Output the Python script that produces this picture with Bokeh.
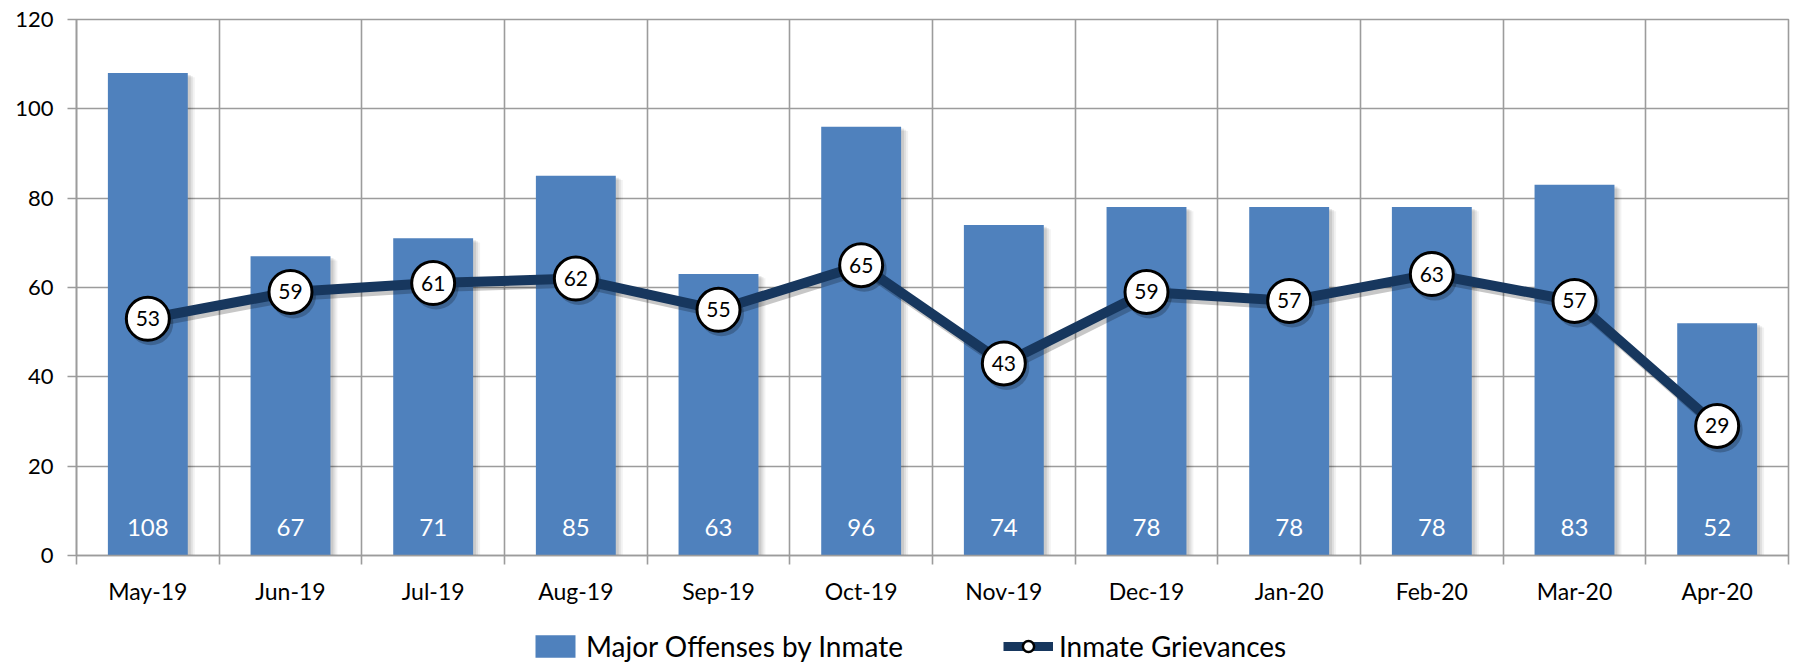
from bokeh.plotting import figure
from bokeh.layouts import column
from bokeh.models import ColumnDataSource, FixedTicker, Legend, LegendItem, Range1d
from bokeh.core.properties import value
from bokeh.embed import file_html
from bokeh.resources import INLINE

months = ["May-19", "Jun-19", "Jul-19", "Aug-19", "Sep-19", "Oct-19",
          "Nov-19", "Dec-19", "Jan-20", "Feb-20", "Mar-20", "Apr-20"]
offenses = [108, 67, 71, 85, 63, 96, 74, 78, 78, 78, 83, 52]
grievances = [53, 59, 61, 62, 55, 65, 43, 59, 57, 63, 57, 29]
y_ticks = [0, 20, 40, 60, 80, 100, 120]
series_names = ["Major Offenses by Inmate", "Inmate Grievances"]

FONT = "Lato"
BAR = "#4F81BD"
LINE = "#17375E"
GRID = "#9C9C9C"

n = len(months)
xs = list(range(n))
src = ColumnDataSource(dict(
    x=xs, off=offenses, gr=grievances,
    off_lbl=[str(v) for v in offenses], gr_lbl=[str(v) for v in grievances],
    lbl_y=[0] * n,
))

p = figure(frame_width=1712, frame_height=536,
           x_range=Range1d(-0.5, n - 0.5), y_range=Range1d(0, 120),
           output_backend="svg", toolbar_location=None,
           min_border_left=76, min_border_top=19, min_border_right=5,
           min_border_bottom=50)

# grid
p.xgrid.ticker = FixedTicker(ticks=[i - 0.5 for i in range(n + 1)])
p.ygrid.ticker = FixedTicker(ticks=y_ticks)
for g in (p.xgrid, p.ygrid):
    g.grid_line_color = GRID
    g.grid_line_width = 1.6
p.outline_line_color = GRID
p.outline_line_width = 1.6

# axes
xa = p.xaxis[0]
xa.ticker = FixedTicker(ticks=xs, minor_ticks=[i - 0.5 for i in range(n + 1)])
xa.major_label_overrides = {i: m for i, m in enumerate(months)}
xa.major_tick_out = 0
xa.major_tick_in = 0
xa.minor_tick_out = 9
xa.minor_tick_in = 0
xa.minor_tick_line_color = GRID
xa.minor_tick_line_width = 1.6
xa.axis_line_color = GRID
xa.axis_line_width = 1.6
xa.major_label_standoff = 12
xa.major_label_text_font = FONT
xa.major_label_text_font_size = "23px"
xa.major_label_text_color = "#000000"

ya = p.yaxis[0]
ya.ticker = FixedTicker(ticks=y_ticks)
ya.major_tick_out = 9
ya.major_tick_in = 0
ya.minor_tick_line_color = None
ya.major_tick_line_color = GRID
ya.major_tick_line_width = 1.6
ya.axis_line_color = GRID
ya.axis_line_width = 1.6
ya.major_label_standoff = 14
ya.major_label_text_font = FONT
ya.major_label_text_font_size = "22px"
ya.major_label_text_color = "#000000"

# bar shadows (soft, to the right)
px_x = 1.0 / 142.7
px_y = 120.0 / 536
for k, a in ((7, 0.05), (5, 0.07), (3, 0.09)):
    p.vbar(x=[v + k * px_x for v in xs], top=[v - k * 0.6 * px_y for v in offenses],
           bottom=0, width=0.56, fill_color="black", fill_alpha=a, line_color=None)

p.vbar(x="x", top="off", width=0.56, source=src, fill_color=BAR, line_color=None)

p.text(x="x", y="lbl_y", text="off_lbl", source=src, y_offset=-28,
       text_align="center", text_baseline="middle",
       text_font=value(FONT), text_font_size="24px", text_color="white")

# line shadow
p.line([v + 3 * px_x for v in xs], [v - 4 * px_y for v in grievances],
       line_color="black", line_alpha=0.22, line_width=10)
p.scatter([v + 3 * px_x for v in xs], [v - 4 * px_y for v in grievances],
          size=45, fill_color="black", fill_alpha=0.22, line_color=None)

p.line("x", "gr", source=src, line_color=LINE, line_width=10)
p.scatter("x", "gr", source=src, size=43, fill_color="white",
          line_color="black", line_width=3)
p.text(x="x", y="gr", text="gr_lbl", source=src,
       text_align="center", text_baseline="middle",
       text_font=value(FONT), text_font_size="21px", text_color="black")

# legend strip (separate figure below the chart); proxy glyphs sit outside its range
q = figure(width=1793, height=56, output_backend="svg", toolbar_location=None,
           x_range=Range1d(0, 1), y_range=Range1d(0, 1),
           min_border_left=0, min_border_right=0, min_border_top=0, min_border_bottom=0)
q.axis.visible = False
q.grid.visible = False
q.outline_line_color = None
lb = q.vbar(x=[-10], top=[-10], bottom=-11, width=0.5, fill_color=BAR, line_color=None)
ll = q.line(x=[-10, -11], y=[-10, -11], line_color=LINE, line_width=9)
lp = q.scatter(x=[-10], y=[-10], size=15, fill_color="white", line_color="black", line_width=2.5)

legend = Legend(items=[
    LegendItem(label=series_names[0], renderers=[lb]),
    LegendItem(label=series_names[1], renderers=[ll, lp]),
], orientation="horizontal", location=(454, 0))
legend.label_text_font = FONT
legend.label_text_font_size = "28px"
legend.label_text_color = "#000000"
legend.label_height = 28
legend.glyph_width = 50
legend.glyph_height = 28
legend.spacing = 100
legend.label_standoff = 6
legend.border_line_color = None
legend.background_fill_alpha = 0
legend.padding = 0
legend.margin = 0
q.add_layout(legend, "center")

layout = column(p, q, spacing=0)
open("out.html", "w").write(file_html(layout, INLINE))
